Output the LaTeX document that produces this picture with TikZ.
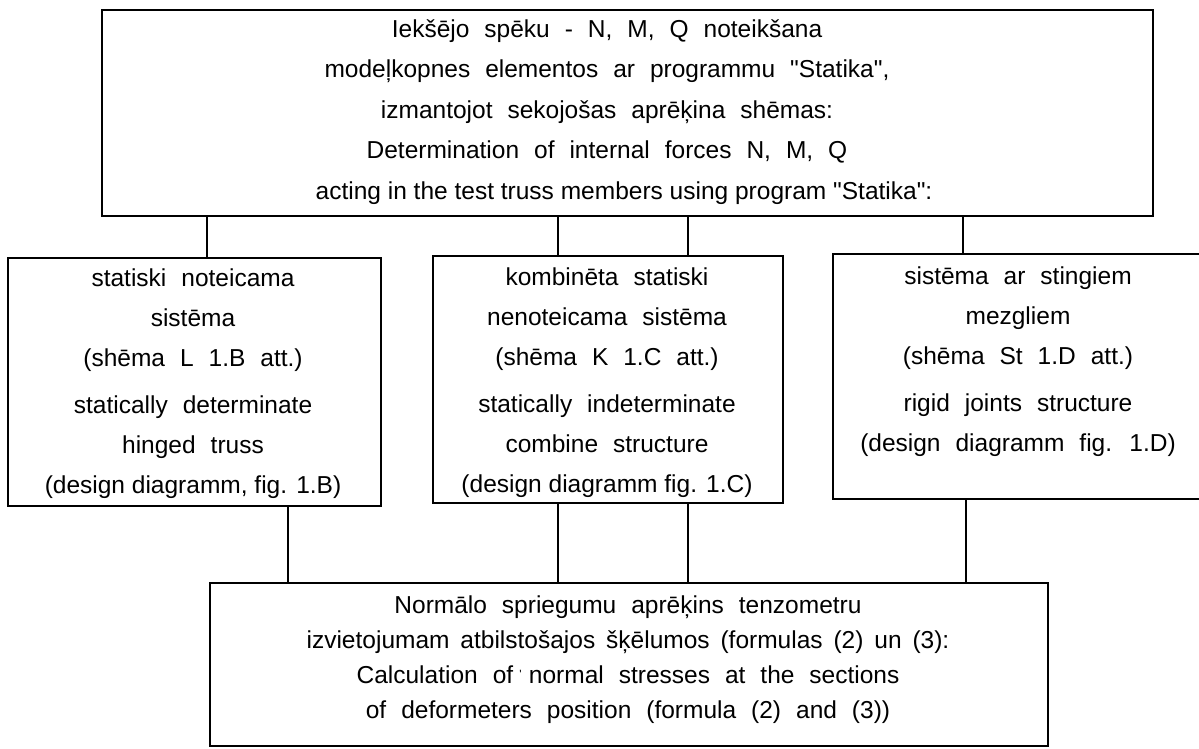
\documentclass[tikz,border=0pt]{standalone}
\usepackage{fontspec}
\setmainfont{Liberation Sans}
\newfontfamily\widesp{Liberation Sans}[WordSpace=2.2, Scale=1.0001]
\newfontfamily\midsp{Liberation Sans}[WordSpace=1.6, Scale=1.0002]
\newfontfamily\normsp{Liberation Sans}[Scale=1.0003]
\newcommand\dq{\char34\relax}
\begin{document}
\begin{tikzpicture}[x=1pt,y=-1pt,
  box/.style={draw, line width=1.6pt, inner sep=0pt, anchor=north west},
  txt/.style={align=center, inner sep=0pt, font=\widesp\fontsize{24.5}{#1}\selectfont},
  txt/.default=40,
  link/.style={line width=1.6pt}]
\useasboundingbox[fill=white] (0,0) rectangle (1199,748);
% boxes
\node[box, minimum width=1051pt, minimum height=206pt] (top) at (101,9) {};
\node[box, minimum width=373pt, minimum height=248pt] (lb) at (7,257) {};
\node[box, minimum width=350pt, minimum height=247pt] (mb) at (432,255) {};
\node[box, minimum width=372pt, minimum height=245pt] (rb) at (832,253) {};
\node[box, minimum width=838pt, minimum height=163pt] (bb) at (209,582) {};
% texts
\node[txt=40.5] (toptxt) at (607,112) {Iekšējo spēku - N, M, Q noteikšana\\
modeļkopnes elementos ar programmu \dq Statika\dq,\\
izmantojot sekojošas aprēķina shēmas:\\
Determination of internal forces N, M, Q\\
\hspace*{34pt}{\normsp acting in the test truss members using program \dq Statika\dq:}};
\node[txt] (lbtxt) at (193,384) {statiski noteicama\\
sistēma\\
(shēma L 1.B att.)\\[7pt]
statically determinate\\
hinged truss\\
{\normsp(design diagramm, fig. 1.B)}};
\node[txt] (mbtxt) at (607,383) {kombinēta statiski\\
nenoteicama sistēma\\
(shēma K 1.C att.)\\[7pt]
statically indeterminate\\
combine structure\\
{\normsp(design diagramm fig. 1.C)}};
\node[txt] (rbtxt) at (1018,362) {sistēma ar stingiem\\
mezgliem\\
(shēma St 1.D att.)\\[7pt]
rigid joints structure\\
(design diagramm fig. 1.D)};
\node[txt=35] (bbtxt) at (628,660) {Normālo spriegumu aprēķins tenzometru\\
{\midsp izvietojumam atbilstošajos šķēlumos (formulas (2) un (3):}\\
Calculation of\hspace{0.25em}\raisebox{5pt}{\fontsize{12}{12}\selectfont '}\hspace{0.3em}normal stresses at the sections\\
of deformeters position (formula (2) and (3))};
% connector positions
\coordinate (xa) at (207,0);
\coordinate (xb) at (558,0);
\coordinate (xc) at (688,0);
\coordinate (xd) at (963,0);
\coordinate (xe) at (288,0);
\coordinate (xf) at (966,0);
% connectors
\draw[link] (xa |- top.south) -- (xa |- lb.north);
\draw[link] (xb |- top.south) -- (xb |- mb.north);
\draw[link] (xc |- top.south) -- (xc |- mb.north);
\draw[link] (xd |- top.south) -- (xd |- rb.north);
\draw[link] (xe |- lb.south) -- (xe |- bb.north);
\draw[link] (xb |- mb.south) -- (xb |- bb.north);
\draw[link] (xc |- mb.south) -- (xc |- bb.north);
\draw[link] (xf |- rb.south) -- (xf |- bb.north);
\end{tikzpicture}
\end{document}
